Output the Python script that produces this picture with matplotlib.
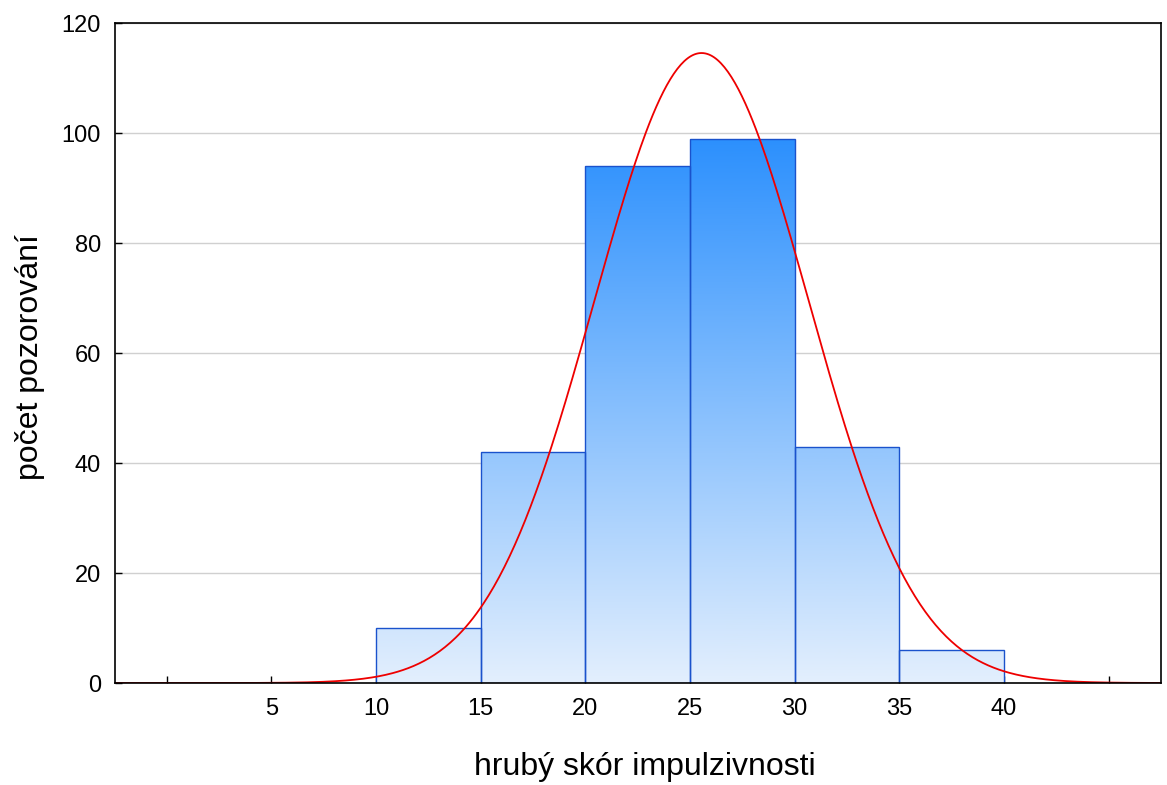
import numpy as np
import matplotlib
matplotlib.use("Agg")
import matplotlib.pyplot as plt
from matplotlib.colors import LinearSegmentedColormap

plt.rcParams['font.family'] = ['Liberation Sans', 'DejaVu Sans']

bin_edges = [10, 15, 20, 25, 30, 35, 40]
counts = [10, 42, 94, 99, 43, 6]
fit_mean = 25.55
fit_sd = 5.12
xticks = [0, 5, 10, 15, 20, 25, 30, 35, 40, 45]
xticklabels = ["", "5", "10", "15", "20", "25", "30", "35", "40", ""]
yticks = [0, 20, 40, 60, 80, 100, 120]

fig = plt.figure(figsize=(11.67, 7.85), dpi=100)
ax = fig.add_axes([0.0985, 0.1299, 0.8964, 0.8408])
ax.set_xlim(-2.47, 47.5)
ax.set_ylim(0, 120)

cmap = LinearSegmentedColormap.from_list("g", ["#e3effd", "#2a8ffd"])
grad = np.linspace(0, 1, 256).reshape(-1, 1)
width = bin_edges[1] - bin_edges[0]
bars = ax.bar(bin_edges[:-1], counts, width=width, align='edge',
              facecolor='none', edgecolor='#1a52cc', linewidth=1.0, zorder=3)
for b in bars:
    im = ax.imshow(grad, cmap=cmap, aspect='auto', origin='lower',
                   extent=[bin_edges[0], bin_edges[-1], 0, 100], zorder=2)
    im.set_clip_path(b)

n = sum(counts)
xs = np.linspace(-2.47, 47.5, 600)
ys = n * width / (fit_sd * np.sqrt(2 * np.pi)) * np.exp(-0.5 * ((xs - fit_mean) / fit_sd) ** 2)
ax.plot(xs, ys, color='#ee0000', linewidth=1.3, zorder=4)

ax.set_xticks(xticks)
ax.set_xticklabels(xticklabels)
ax.set_yticks(yticks)
ax.yaxis.grid(True, color='#d0d0d0', linewidth=1.0, zorder=0)
ax.set_axisbelow(True)
ax.tick_params(direction='in', length=5, labelsize=17, width=1)
ax.tick_params(axis='x', pad=11)
ax.tick_params(axis='y', pad=10)
for s in ax.spines.values():
    s.set_linewidth(1.2)
    s.set_zorder(5)

ax.set_xlabel("hrubý skór impulzivnosti", fontsize=23)
ax.set_ylabel("počet pozorování", fontsize=23)
ax.xaxis.set_label_coords(0.5065, -0.104)
ax.yaxis.set_label_coords(-0.0665, 0.494)

fig.savefig("out.png", dpi=100)
